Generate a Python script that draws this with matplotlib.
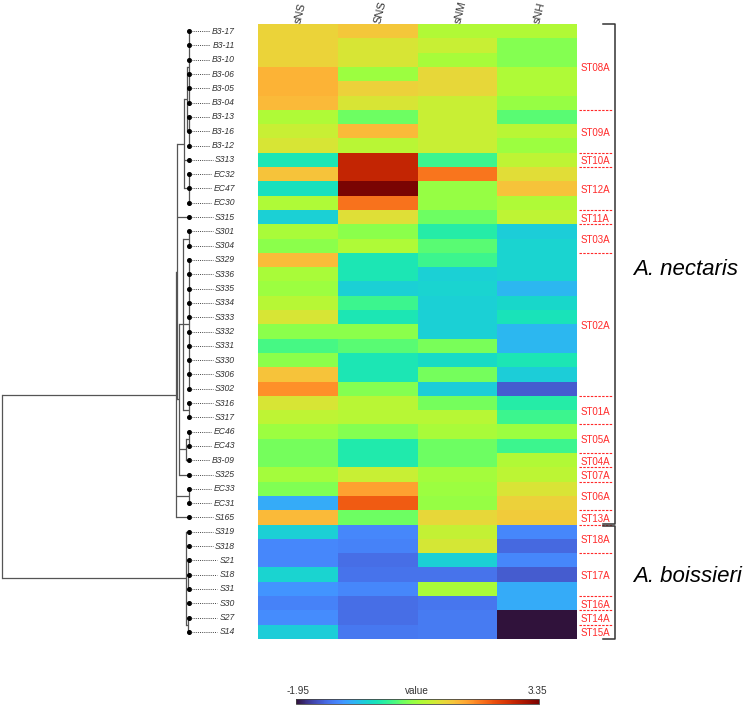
import numpy as np
import matplotlib
matplotlib.use("Agg")
import matplotlib.pyplot as plt
from matplotlib import transforms
from matplotlib.colors import Normalize
from matplotlib.cm import ScalarMappable

# ---------------- data ----------------
samples = ["B3-17", "B3-11", "B3-10", "B3-06", "B3-05", "B3-04", "B3-13", "B3-16", "B3-12",
           "S313", "EC32", "EC47", "EC30", "S315", "S301", "S304", "S329", "S336", "S335",
           "S334", "S333", "S332", "S331", "S330", "S306", "S302", "S316", "S317", "EC46",
           "EC43", "B3-09", "S325", "EC33", "EC31", "S165", "S319", "S318", "S21", "S18",
           "S31", "S30", "S27", "S14"]
columns = ["sNS", "SNS", "sNM", "sNH"]

sNS = [1.33, 1.33, 1.33, 1.65, 1.65, 1.58, 0.80, 1.00, 1.12, -0.15, 1.50, -0.25, 0.80, -0.42,
       0.75, 0.55, 1.55, 0.75, 0.65, 0.85, 1.12, 0.55, 0.18, 0.55, 1.50, 1.92, 1.12, 0.92,
       0.65, 0.42, 0.42, 0.72, 0.48, -0.75, 1.58, -0.42, -1.05, -1.05, -0.38, -0.95, -1.10,
       -1.00, -0.45]
SNS = [1.45, 1.12, 1.12, 0.65, 1.35, 1.12, 0.38, 1.58, 0.88, 2.82, 2.82, 3.35, 2.12, 1.20,
       0.55, 0.80, -0.15, -0.15, -0.42, 0.12, -0.15, 0.55, 0.28, -0.15, -0.15, 0.50, 0.88,
       0.85, 0.50, -0.10, -0.10, 1.00, 1.78, 2.29, 0.38, -1.05, -1.10, -1.25, -1.22, -1.05,
       -1.25, -1.25, -1.18]
sNM = [0.82, 1.00, 0.73, 1.28, 1.28, 1.00, 1.00, 1.00, 1.00, 0.12, 2.10, 0.60, 0.60, 0.38,
       -0.05, 0.28, 0.12, -0.42, -0.38, -0.42, -0.42, -0.42, 0.45, -0.30, 0.42, -0.45, 0.42,
       0.85, 0.75, 0.38, 0.38, 0.72, 0.65, 0.60, 1.30, 0.95, 1.10, -0.42, -1.22, 0.75,
       -1.20, -1.15, -1.15]
sNH = [0.82, 0.50, 0.50, 0.80, 0.80, 0.60, 0.28, 0.88, 0.65, 0.92, 1.22, 1.50, 0.80, 0.92,
       -0.45, -0.38, -0.38, -0.38, -0.65, -0.35, -0.20, -0.65, -0.65, -0.15, -0.45, -1.40,
       -0.05, 0.12, 0.65, 0.12, 0.82, 0.90, 1.15, 1.35, 1.42, -1.05, -1.30, -1.05, -1.40,
       -0.75, -0.75, -1.95, -1.95]
vmin, vmax = -1.95, 3.35

group_names = ["ST08A", "ST09A", "ST10A", "ST12A", "ST11A", "ST03A", "ST02A", "ST01A", "ST05A",
               "ST04A", "ST07A", "ST06A", "ST13A", "ST18A", "ST17A", "ST16A", "ST14A", "ST15A"]
group_sizes = [6, 3, 1, 3, 1, 2, 10, 2, 2, 1, 1, 2, 1, 2, 3, 1, 1, 1]
species_names = ["A. nectaris", "A. boissieri"]
species_sizes = [35, 8]

# dendrogram: (height, [children]); leaves are row indices
tree = (187, [
    (12.6, [
        (12.0, [
            (4.7, [(1.5, [(0.3, [0, 1, 2, 3, 4, 5]), (0.3, [6, 7, 8])]), 9,
                   (0.3, [10, 11, 12])]),
            13,
            (9.7, [(6.3, [(0.3, [14, 15]), (0.3, list(range(16, 26))), (0.3, [26, 27])]),
                   (2.5, [(0.3, [28, 29]), 30]), 31])]),
        (0.3, [32, 33]),
        34]),
    (3.0, [35, 36, (0.5, [37, 38, 39]), 40, (0.5, [41, 42])]),
])

# ---------------- figure ----------------
W, H = 749, 705
fig = plt.figure(figsize=(W / 100, H / 100), dpi=100)
FONT = "Liberation Sans"
TXT = "#333333"

def fx(px):
    return px / W

top_px, bot_px = 24, 639
hm_left, hm_right = 258, 577
n = len(samples)

ax = fig.add_axes([fx(hm_left), 1 - bot_px / H, fx(hm_right - hm_left), (bot_px - top_px) / H])
data = np.array([sNS, SNS, sNM, sNH]).T
cmap = plt.get_cmap("turbo")
ax.pcolormesh(np.arange(5), np.arange(n + 1), data, cmap=cmap, vmin=vmin, vmax=vmax,
              shading="flat", edgecolors="none")
ax.set_xlim(0, 4)
ax.set_ylim(n, 0)
ax.axis("off")

# column labels
tcol = transforms.blended_transform_factory(ax.transData, fig.transFigure)
for j, c in enumerate(columns):
    ax.text(j + 0.5, 1 - 23 / H, c, transform=tcol, rotation=76, rotation_mode="anchor",
            ha="left", va="center", fontsize=8, family=FONT, color=TXT)

# dendrogram
axd = fig.add_axes([fx(2), 1 - bot_px / H, fx(189 - 2), (bot_px - top_px) / H])
axd.set_xlim(187, 0)
axd.set_ylim(n, 0)
axd.axis("off")
LC = "#555555"

def draw(node):
    if isinstance(node, int):
        return node + 0.5, 0.0
    h, children = node
    pos = [draw(c) for c in children]
    ys = [p[0] for p in pos]
    for (cy, ch) in pos:
        axd.plot([ch, h], [cy, cy], color=LC, lw=0.9, solid_capstyle="butt", clip_on=False)
    axd.plot([h, h], [min(ys), max(ys)], color=LC, lw=0.9, clip_on=False)
    return (min(ys) + max(ys)) / 2, h

draw(tree)
rows = np.arange(n) + 0.5
axd.plot(np.zeros(n), rows, "o", color="black", ms=2.6, clip_on=False, zorder=5)

# row labels
trow = transforms.blended_transform_factory(fig.transFigure, ax.transData)
labels = []
for i, s in enumerate(samples):
    t = fig.text(fx(235), i + 0.5, s, ha="right", va="center", fontsize=6.2, family=FONT,
                 style="italic", color=TXT, transform=trow)
    labels.append(t)
fig.canvas.draw()
r = fig.canvas.get_renderer()
for i, t in enumerate(labels):
    x0 = t.get_window_extent(r).x0
    fig.add_artist(plt.Line2D([fx(191), (x0 - 2.5) / W], [i + 0.5, i + 0.5], transform=trow,
                              color="#444444", lw=0.7, linestyle=(0, (1, 1.2))))

# group labels and separators
RED = "#ff2a2a"
start = 0
bounds = np.cumsum(group_sizes)
for name, size in zip(group_names, group_sizes):
    fig.text(fx(581), start + size / 2 + 0.1, name, transform=trow, ha="left", va="center",
             fontsize=7, family=FONT, color=RED)
    start += size
for b in bounds[:-1]:
    fig.add_artist(plt.Line2D([fx(578.5), fx(611.5)], [b, b], transform=trow, color=RED,
                              lw=0.8, linestyle=(0, (2.2, 1.2))))

# species brackets
start = 0
for k, (sp, size) in enumerate(zip(species_names, species_sizes)):
    y0 = start + (0.07 if k > 0 else 0)
    y1 = start + size - (0.07 if k < len(species_sizes) - 1 else 0)
    fig.add_artist(plt.Line2D([fx(603), fx(614.5), fx(614.5), fx(603)], [y0, y0, y1, y1],
                              transform=trow, color="#333333", lw=1.1))
    fig.text(fx(633), start + size / 2 - 0.35, sp, transform=trow, ha="left", va="center",
             fontsize=16, family=FONT, style="italic", color="black")
    start += size

# colorbar
cax = fig.add_axes([fx(296), 1 - 703.5 / H, fx(243), 4.5 / H])
cb = fig.colorbar(ScalarMappable(norm=Normalize(vmin, vmax), cmap=cmap), cax=cax,
                  orientation="horizontal")
cb.set_ticks([])
cb.outline.set_linewidth(0.6)
cb.outline.set_edgecolor("#444444")
fig.text(fx(286.5), 1 - 691.5 / H, f"{vmin:.2f}", ha="left", va="center", fontsize=7.2,
         family=FONT, color=TXT)
fig.text(fx(416.5), 1 - 691.5 / H, "value", ha="center", va="center", fontsize=7.2,
         family=FONT, color=TXT)
fig.text(fx(547), 1 - 691.5 / H, f"{vmax:.2f}", ha="right", va="center", fontsize=7.2,
         family=FONT, color=TXT)

fig.savefig("out.png", dpi=100, facecolor="white")
